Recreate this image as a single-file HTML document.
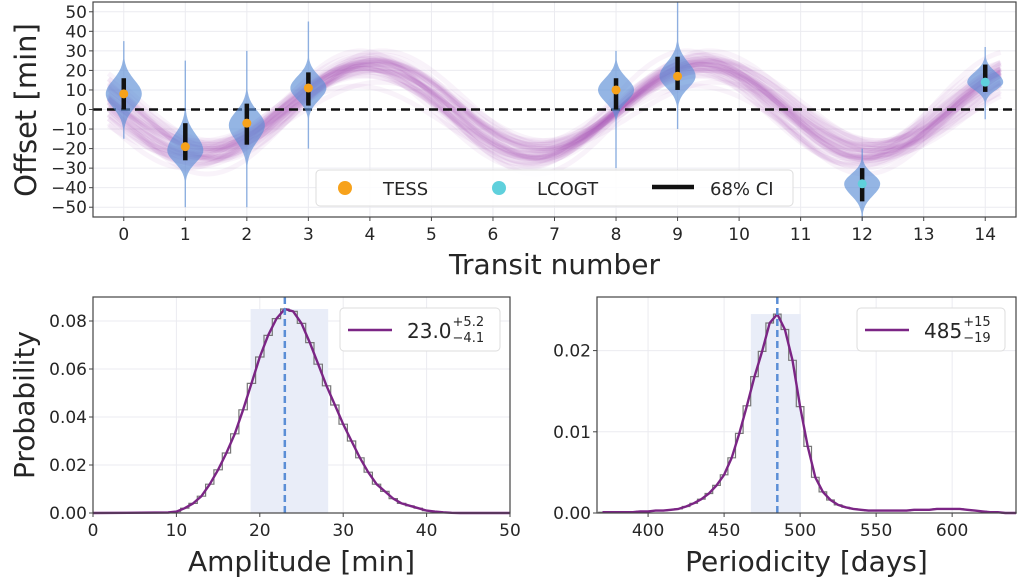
<!DOCTYPE html>
<html><head><meta charset="utf-8"><style>
html,body{margin:0;padding:0;background:#fff;}
svg{display:block;font-family:"DejaVu Sans","Liberation Sans",sans-serif;}
</style></head><body>
<svg id="fig" width="1020" height="580" xmlns="http://www.w3.org/2000/svg"></svg>
<script>
// ---- data ----
const violinPos = [0,1,2,3,8,9,12,14];
const violinMode = [8,-21,-8,11,10,17,-38,14];
const violinSUp = [7,8,7,6,6,7,5,5];
const violinSDn = [7,6,8,6,6,6,6,4];
const violinMin = [-15,-50,-50,-20,-30,-10,-57,-5];
const violinMax = [35,25,30,45,30,55,-20,32];
const pointMed = [8,-19,-7,11,10,17,-38,14];
const ciLo = [0,-26,-18,2,0,10,-47,9];
const ciHi = [16,-7,3,19,16,27,-30,23];
const instrument = ["TESS","TESS","TESS","TESS","TESS","TESS","LCOGT","LCOGT"];
const sampleAmp = [23,21,25,19,27,22,24,20,26,23,21,25,22,24,23,20,26,22,24,23,28,18,23,25,21,17,29,22,24,20,26,23,19,27,21,25,23,22,24,18];
const samplePer = [5.4,5.3,5.5,5.35,5.45,5.6,5.25,5.4,5.5,5.3,5.45,5.35,5.55,5.4,5.2,5.5,5.4,5.3,5.45,5.4,5.35,5.5,5.6,5.25,5.4,5.45,5.3,5.65,5.15,5.4,5.5,5.35,5.42,5.28,5.58,5.38,5.48,5.22,5.32,5.52];
const sampleShift = [0,0.1,-0.1,0.05,-0.05,0.15,-0.15,0.08,-0.08,0,0.12,-0.12,0.03,-0.03,0.06,-0.06,0,0.1,-0.1,0.02,0,0.05,-0.05,0.1,-0.1,0.2,-0.2,0.04,-0.04,0.18,-0.18,0.07,-0.07,0.13,-0.13,0,0.09,-0.09,0.16,-0.16];
const sampleOffset = [0,2,-2,1,-1,3,-3,0,1.5,-1.5,4,-4,0.5,-0.5,2.5,-2.5,0,1,-1,5,-5,2,-2,0,3,-3,1,-1,0,4,-4,2,-2,1,-1,0,3,-3,6,-6];
const ampX = [9,10,11,12,13,14,15,16,17,18,19,20,21,22,23,24,25,26,27,28,29,30,31,32,33,34,35,36,37,38,39,40,41,42,43,44];
const ampP = [.0002,.0006,.002,.004,.007,.012,.018,.025,.033,.043,.054,.065,.074,.081,.085,.084,.079,.071,.062,.053,.045,.037,.030,.023,.017,.012,.009,.006,.004,.003,.002,.001,.0006,.0003,.0001,0];
const ampMed = 23.0, ampLo = 18.9, ampHi = 28.2;
const perX = [370,375,380,385,390,395,400,405,410,415,420,425,430,435,440,445,450,455,460,465,470,475,480,485,490,495,500,505,510,515,520,525,530,535,540,545,550,555,560,565,570,575,580,585,590,595,600,605,610,615,620,625,630,635,640];
const perP = [.0001,.0001,.0001,.0001,.0001,.0002,.0002,.0003,.0003,.0004,.0005,.0008,.0012,.0017,.0024,.0034,.0047,.0068,.0098,.0132,.0168,.0199,.0234,.0245,.0226,.0188,.0131,.0082,.0044,.0026,.0016,.0010,.0007,.0005,.0004,.0003,.0003,.0003,.0003,.0003,.0003,.0004,.0004,.0004,.0005,.0005,.0005,.0005,.0004,.0003,.0002,.0001,.0001,0,0];
const perMed = 485, perLo = 467.6, perHi = 500.5;
const topXTicks = [0,1,2,3,4,5,6,7,8,9,10,11,12,13,14];
const topYTicks = [-50,-40,-30,-20,-10,0,10,20,30,40,50];
const ampXTicks = [0,10,20,30,40,50];
const ampYTicks = [0,0.02,0.04,0.06,0.08];
const perXTicks = [400,450,500,550,600];
const perYTicks = [0,0.01,0.02];

// ---- helpers ----
const NS="http://www.w3.org/2000/svg";
const svg=document.getElementById('fig');
function mk(tag,attrs,parent){const e=document.createElementNS(NS,tag);for(const k in attrs)e.setAttribute(k,attrs[k]);(parent||svg).appendChild(e);return e;}
function lin(d0,d1,r0,r1){return v=>r0+(v-d0)/(d1-d0)*(r1-r0);}
const TXT='#262626';
function fmtMinus(v){return v<0?'\u2212'+Math.abs(v):String(v);}

// ---- TOP PANEL ----
const tx=lin(-0.5,14.5,93,1016), ty=lin(-55,55,217,2);
let g=mk('g',{});


mk('rect',{x:93,y:2,width:923,height:215,fill:'#fff'},g);
topXTicks.forEach(t=>{mk('line',{x1:tx(t),x2:tx(t),y1:2,y2:217,stroke:'#ebebf0','stroke-width':1},g);});
topYTicks.forEach(t=>{mk('line',{x1:93,x2:1016,y1:ty(t),y2:ty(t),stroke:'#ebebf0','stroke-width':1},g);});
// sinusoid samples
const sg=mk('g',{},g);


sampleAmp.forEach((A,i)=>{
  let d='';
  for(let t=-0.25;t<=14.26;t+=0.05){
    const y=-A*Math.cos(2*Math.PI*(t-6.7-sampleShift[i])/samplePer[i])+sampleOffset[i];
    d+=(d?'L':'M')+tx(t).toFixed(1)+','+ty(y).toFixed(1);
  }
  const p=mk('path',{d:d,fill:'none',stroke:'#a45cb8','stroke-opacity':0.07,'stroke-width':5},sg);
  
});
// zero line
const zl=mk('line',{x1:93,x2:1016,y1:ty(0),y2:ty(0),stroke:'#111','stroke-width':2.5,'stroke-dasharray':'9,5'},g);

// violins
violinPos.forEach((p,i)=>{
  const cx=tx(p), W=18;
  let right=[], left=[];
  for(let v=violinMin[i]; v<=violinMax[i]+0.01; v+=0.5){
    const s=v>violinMode[i]?violinSUp[i]:violinSDn[i];
    const z=(v-violinMode[i])/s;
    let w=W*Math.exp(-z*z/2);
    w=Math.max(w,0.7);
    right.push([cx+w,ty(v)]);left.push([cx-w,ty(v)]);
  }
  const pts=right.concat(left.reverse());
  const d='M'+pts.map(q=>q[0].toFixed(1)+','+q[1].toFixed(1)).join('L')+'Z';
  const vp=mk('path',{d:d,fill:'#5b8ed6','fill-opacity':0.65,stroke:'none'},g);
  
  
  const ci=mk('line',{x1:cx,x2:cx,y1:ty(ciLo[i]),y2:ty(ciHi[i]),stroke:'#111','stroke-width':4.5},g);
  
  
  const pt=mk('circle',{cx:cx,cy:ty(pointMed[i]),r:4.5,fill:instrument[i]==='TESS'?'#f7a21b':'#5fd0dc'},g);
  
  
});
// spines
mk('rect',{x:93,y:2,width:923,height:215,fill:'none',stroke:'#444','stroke-width':1.2},g);
topXTicks.forEach(t=>{
  mk('line',{x1:tx(t),x2:tx(t),y1:217,y2:221,stroke:'#444'},g);
  const e=mk('text',{x:tx(t),y:240,'font-size':17,'text-anchor':'middle',fill:TXT},g);e.textContent=t;
  
});
topYTicks.forEach(t=>{
  mk('line',{x1:89,x2:93,y1:ty(t),y2:ty(t),stroke:'#444'},g);
  const e=mk('text',{x:87,y:ty(t)+6,'font-size':17,'text-anchor':'end',fill:TXT},g);e.textContent=fmtMinus(t);
  
});
let e=mk('text',{x:tx(7),y:274,'font-size':28,'text-anchor':'middle',fill:TXT});e.textContent='Transit number';

e=mk('text',{x:0,y:0,'font-size':29,'text-anchor':'middle',fill:TXT,transform:'translate(36,110) rotate(-90)'});e.textContent='Offset [min]';

// legend
const lg=mk('g',{});


mk('rect',{x:316,y:170,width:477,height:36,rx:4,fill:'#fff','fill-opacity':0.85,stroke:'#ddd'},lg);
let le=mk('circle',{cx:345,cy:188,r:7,fill:'#f7a21b'},lg);
e=mk('text',{x:383,y:195,'font-size':18,fill:TXT},lg);e.textContent='TESS';
le=mk('circle',{cx:499,cy:188,r:7,fill:'#5fd0dc'},lg);
e=mk('text',{x:537,y:195,'font-size':18,fill:TXT},lg);e.textContent='LCOGT';
le=mk('line',{x1:652,x2:694,y1:187,y2:187,stroke:'#111','stroke-width':4.5},lg);
e=mk('text',{x:710,y:195,'font-size':18,fill:TXT},lg);e.textContent='68% CI';

// ---- BOTTOM PANELS ----
function distPanel(o){
  const X=lin(o.x0,o.x1,o.L,o.R), Y=lin(0,o.ymax,513,297);
  const pg=mk('g',{});
  
  
  mk('rect',{x:o.L,y:297,width:o.R-o.L,height:216,fill:'#fff'},pg);
  o.xt.forEach(t=>mk('line',{x1:X(t),x2:X(t),y1:297,y2:513,stroke:'#ebebf0'},pg));
  o.yt.forEach(t=>mk('line',{x1:o.L,x2:o.R,y1:Y(t),y2:Y(t),stroke:'#ebebf0'},pg));
  const sh=mk('rect',{x:X(o.lo),y:Y(o.shadeTop),width:X(o.hi)-X(o.lo),height:513-Y(o.shadeTop),fill:'#e9edf8'},pg);
  
  const bw=o.xs[1]-o.xs[0];
  let d='M'+X(o.xs[0]-bw/2)+','+Y(0);
  o.xs.forEach((x,i)=>{d+='L'+X(x-bw/2).toFixed(1)+','+Y(o.ps[i]).toFixed(1)+'L'+X(x+bw/2).toFixed(1)+','+Y(o.ps[i]).toFixed(1);});
  d+='L'+X(o.xs[o.xs.length-1]+bw/2)+','+Y(0);
  const h=mk('path',{d:d,fill:'none',stroke:'#777','stroke-width':1.2},pg);
  
  let k='';
  o.xs.forEach((x,i)=>{k+=(k?'L':'M')+X(x).toFixed(1)+','+Y(o.ps[i]).toFixed(1);});
  if(o.extendL) k='M'+o.L+','+Y(0)+'L'+k.slice(1);
  if(o.extendR) k+='L'+o.R+','+Y(0);
  const kl=mk('path',{d:k,fill:'none',stroke:'#7b2585','stroke-width':2.4,'stroke-linejoin':'round'},pg);
  
  const ml=mk('line',{x1:X(o.med),x2:X(o.med),y1:297,y2:513,stroke:'#5b8ed6','stroke-width':2.5,'stroke-dasharray':'7,4'},pg);
  
  mk('rect',{x:o.L,y:297,width:o.R-o.L,height:216,fill:'none',stroke:'#444','stroke-width':1.2},pg);
  o.xt.forEach(t=>{mk('line',{x1:X(t),x2:X(t),y1:513,y2:517,stroke:'#444'},pg);
    const q=mk('text',{x:X(t),y:536,'font-size':17,'text-anchor':'middle',fill:TXT},pg);q.textContent=t;});
  o.yt.forEach(t=>{mk('line',{x1:o.L-4,x2:o.L,y1:Y(t),y2:Y(t),stroke:'#444'},pg);
    const q=mk('text',{x:o.L-6,y:Y(t)+6,'font-size':17,'text-anchor':'end',fill:TXT},pg);q.textContent=t.toFixed(o.dec);});
  const xt=mk('text',{x:(o.L+o.R)/2,y:571,'font-size':28,'text-anchor':'middle',fill:TXT},pg);xt.textContent=o.xlabel;
  
  const lgg=mk('g',{},pg);
  
  
  mk('rect',{x:o.lgx,y:308,width:o.lgw,height:43,rx:4,fill:'#fff',stroke:'#ddd'},lgg);
  mk('line',{x1:o.lgx+8,x2:o.lgx+52,y1:330,y2:330,stroke:'#7b2585','stroke-width':2.5},lgg);
  const lt=mk('text',{x:o.lgx+67,y:338,'font-size':20,fill:TXT},lgg);
  lt.textContent=o.val;
  let lw=o.val.length*12;
  try{lw=lt.getComputedTextLength();}catch(err){}
  const up=mk('text',{x:o.lgx+68+lw,y:326,'font-size':13,fill:TXT},lgg);up.textContent=o.up;
  const dn=mk('text',{x:o.lgx+68+lw,y:342,'font-size':13,fill:TXT},lgg);dn.textContent=o.dn;
}
distPanel({name:'amplitude-panel',L:93,R:510,x0:0,x1:50,ymax:0.09,xs:ampX,ps:ampP,lo:ampLo,hi:ampHi,med:ampMed,shadeTop:0.085,
  xt:ampXTicks,yt:ampYTicks,dec:2,xlabel:'Amplitude [min]',lgx:340,lgw:160,val:'23.0',up:'+5.2',dn:'\u22124.1',extendL:true,extendR:true});
distPanel({name:'periodicity-panel',L:597,R:1016,x0:366.4,x1:642,ymax:0.0266,xs:perX,ps:perP,lo:perLo,hi:perHi,med:perMed,shadeTop:0.0245,
  xt:perXTicks,yt:perYTicks,dec:2,xlabel:'Periodicity [days]',lgx:857,lgw:148,val:'485',up:'+15',dn:'\u221219',extendL:false,extendR:true});
e=mk('text',{x:0,y:0,'font-size':28,'text-anchor':'middle',fill:TXT,transform:'translate(34,405) rotate(-90)'});e.textContent='Probability';

</script>
</body></html>
